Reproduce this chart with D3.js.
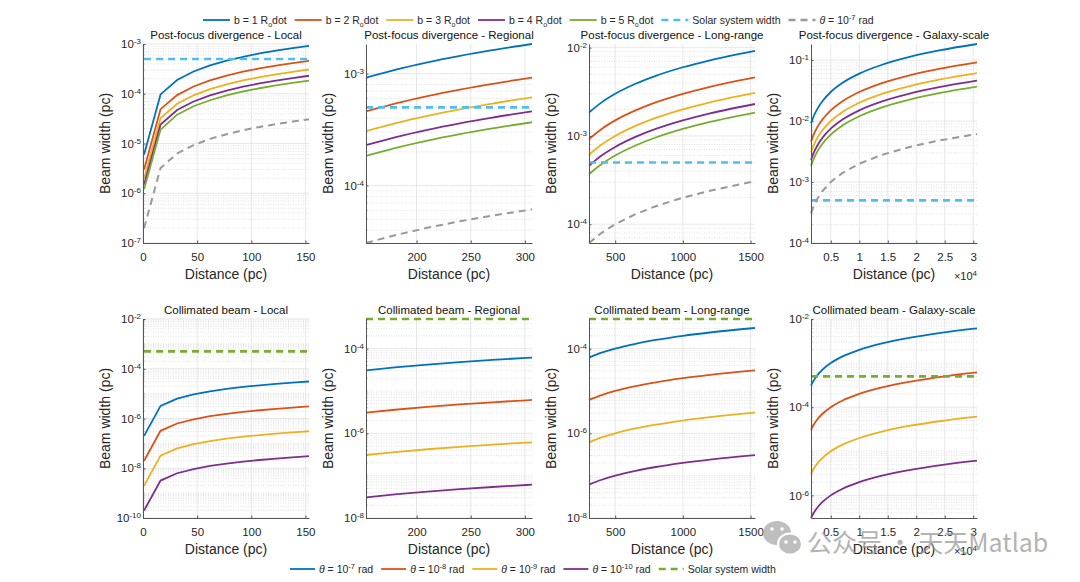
<!DOCTYPE html>
<html lang="en">
<head>
<meta charset="UTF-8">
<script src="https://d3js.org/d3.v7.min.js"></script>
<title>Beam width</title>
<style>
  body { margin: 0; background: #fff; }
  svg text { font-family: "Liberation Sans", Arial, sans-serif; fill: #262626; }
</style>
</head>
<body>
<div id="chart"></div>
<script>
// ---- data (widths in pc) ----
const solarWidth = 5e-4;
const bLabels = [1, 2, 3, 4, 5];
const thetaExps = [-7, -8, -9, -10];

const distLocal = [1, 16.2, 31.5, 46.7, 61.9, 77.2, 92.4, 107.6, 122.8, 138.1, 153.3];
const widthLocalB = [
  [6.0e-6, 9.7e-5, 1.89e-4, 2.80e-4, 3.72e-4, 4.63e-4, 5.54e-4, 6.46e-4, 7.37e-4, 8.28e-4, 9.20e-4],
  [3.0e-6, 4.9e-5, 9.4e-5, 1.40e-4, 1.86e-4, 2.31e-4, 2.77e-4, 3.23e-4, 3.69e-4, 4.14e-4, 4.60e-4],
  [2.0e-6, 3.2e-5, 6.3e-5, 9.3e-5, 1.24e-4, 1.54e-4, 1.85e-4, 2.15e-4, 2.46e-4, 2.76e-4, 3.07e-4],
  [1.5e-6, 2.4e-5, 4.7e-5, 7.0e-5, 9.3e-5, 1.16e-4, 1.39e-4, 1.61e-4, 1.84e-4, 2.07e-4, 2.30e-4],
  [1.2e-6, 1.9e-5, 3.8e-5, 5.6e-5, 7.4e-5, 9.3e-5, 1.11e-4, 1.29e-4, 1.47e-4, 1.66e-4, 1.84e-4]
];
const widthLocalTheta = [
  [2.0e-7, 3.2e-6, 6.3e-6, 9.3e-6, 1.24e-5, 1.54e-5, 1.85e-5, 2.15e-5, 2.46e-5, 2.76e-5, 3.07e-5],
  [2.0e-8, 3.2e-7, 6.3e-7, 9.3e-7, 1.24e-6, 1.54e-6, 1.85e-6, 2.15e-6, 2.46e-6, 2.76e-6, 3.07e-6],
  [2.0e-9, 3.2e-8, 6.3e-8, 9.3e-8, 1.24e-7, 1.54e-7, 1.85e-7, 2.15e-7, 2.46e-7, 2.76e-7, 3.07e-7],
  [2.0e-10, 3.2e-9, 6.3e-9, 9.3e-9, 1.24e-8, 1.54e-8, 1.85e-8, 2.15e-8, 2.46e-8, 2.76e-8, 3.07e-8]
];

const distRegional = [153.3, 180, 210, 240, 270, 306.6];
const widthRegionalB = [
  [9.2e-4, 1.08e-3, 1.26e-3, 1.44e-3, 1.62e-3, 1.84e-3],
  [4.6e-4, 5.4e-4, 6.3e-4, 7.2e-4, 8.1e-4, 9.2e-4],
  [3.07e-4, 3.6e-4, 4.2e-4, 4.8e-4, 5.4e-4, 6.13e-4],
  [2.3e-4, 2.7e-4, 3.15e-4, 3.6e-4, 4.05e-4, 4.6e-4],
  [1.84e-4, 2.16e-4, 2.52e-4, 2.88e-4, 3.24e-4, 3.68e-4]
];
const widthRegionalTheta = [
  [3.07e-5, 3.6e-5, 4.2e-5, 4.8e-5, 5.4e-5, 6.13e-5],
  [3.07e-6, 3.6e-6, 4.2e-6, 4.8e-6, 5.4e-6, 6.13e-6],
  [3.07e-7, 3.6e-7, 4.2e-7, 4.8e-7, 5.4e-7, 6.13e-7],
  [3.07e-8, 3.6e-8, 4.2e-8, 4.8e-8, 5.4e-8, 6.13e-8]
];

const distLong = [306.6, 400, 500, 650, 800, 1000, 1200, 1533];
const widthLongB = [
  [1.84e-3, 2.4e-3, 3.0e-3, 3.9e-3, 4.8e-3, 6.0e-3, 7.2e-3, 9.2e-3],
  [9.2e-4, 1.2e-3, 1.5e-3, 1.95e-3, 2.4e-3, 3.0e-3, 3.6e-3, 4.6e-3],
  [6.13e-4, 8.0e-4, 1.0e-3, 1.3e-3, 1.6e-3, 2.0e-3, 2.4e-3, 3.07e-3],
  [4.6e-4, 6.0e-4, 7.5e-4, 9.75e-4, 1.2e-3, 1.5e-3, 1.8e-3, 2.3e-3],
  [3.68e-4, 4.8e-4, 6.0e-4, 7.8e-4, 9.6e-4, 1.2e-3, 1.44e-3, 1.84e-3]
];
const widthLongTheta = [
  [6.13e-5, 8.0e-5, 1.0e-4, 1.3e-4, 1.6e-4, 2.0e-4, 2.4e-4, 3.07e-4],
  [6.13e-6, 8.0e-6, 1.0e-5, 1.3e-5, 1.6e-5, 2.0e-5, 2.4e-5, 3.07e-5],
  [6.13e-7, 8.0e-7, 1.0e-6, 1.3e-6, 1.6e-6, 2.0e-6, 2.4e-6, 3.07e-6],
  [6.13e-8, 8.0e-8, 1.0e-7, 1.3e-7, 1.6e-7, 2.0e-7, 2.4e-7, 3.07e-7]
];

const distGalaxy = [1533, 2000, 2700, 3600, 5000, 7000, 10000, 14000, 19000, 24000, 30660];
const widthGalaxyB = [
  [9.2e-3, 1.2e-2, 1.62e-2, 2.16e-2, 3.0e-2, 4.2e-2, 6.0e-2, 8.4e-2, 0.114, 0.144, 0.184],
  [4.6e-3, 6.0e-3, 8.1e-3, 1.08e-2, 1.5e-2, 2.1e-2, 3.0e-2, 4.2e-2, 5.7e-2, 7.2e-2, 9.2e-2],
  [3.07e-3, 4.0e-3, 5.4e-3, 7.2e-3, 1.0e-2, 1.4e-2, 2.0e-2, 2.8e-2, 3.8e-2, 4.8e-2, 6.13e-2],
  [2.3e-3, 3.0e-3, 4.05e-3, 5.4e-3, 7.5e-3, 1.05e-2, 1.5e-2, 2.1e-2, 2.85e-2, 3.6e-2, 4.6e-2],
  [1.84e-3, 2.4e-3, 3.24e-3, 4.32e-3, 6.0e-3, 8.4e-3, 1.2e-2, 1.68e-2, 2.28e-2, 2.88e-2, 3.68e-2]
];
const widthGalaxyTheta = [
  [3.07e-4, 4.0e-4, 5.4e-4, 7.2e-4, 1.0e-3, 1.4e-3, 2.0e-3, 2.8e-3, 3.8e-3, 4.8e-3, 6.13e-3],
  [3.07e-5, 4.0e-5, 5.4e-5, 7.2e-5, 1.0e-4, 1.4e-4, 2.0e-4, 2.8e-4, 3.8e-4, 4.8e-4, 6.13e-4],
  [3.07e-6, 4.0e-6, 5.4e-6, 7.2e-6, 1.0e-5, 1.4e-5, 2.0e-5, 2.8e-5, 3.8e-5, 4.8e-5, 6.13e-5],
  [3.07e-7, 4.0e-7, 5.4e-7, 7.2e-7, 1.0e-6, 1.4e-6, 2.0e-6, 2.8e-6, 3.8e-6, 4.8e-6, 6.13e-6]
];

const lineColors = ["#0072BD", "#D95319", "#EDB120", "#7E2F8E", "#77AC30"];
const solarBlue = "#4DBEEE", grayDash = "#999999", solarGreen = "#77AC30";

// ---- layout ----
const W = 166, H = 199;
const colLeft = [143, 366, 589, 811];
const rowTop = [44, 319];

const svg = d3.select("#chart").append("svg")
  .attr("width", 1080).attr("height", 582);

const ranges = [
  { name: "Local", dist: distLocal, b: widthLocalB, th: widthLocalTheta, xDom: [0, 153.3], xTicks: [0, 50, 100, 150], curve: d3.curveLinear,
    yPost: [1e-7, 1e-3], yPostTicks: [1e-7, 1e-6, 1e-5, 1e-4, 1e-3], yColl: [1e-10, 1e-2], yCollTicks: [1e-10, 1e-8, 1e-6, 1e-4, 1e-2] },
  { name: "Regional", dist: distRegional, b: widthRegionalB, th: widthRegionalTheta, xDom: [153.3, 306.6], xTicks: [200, 250, 300], curve: d3.curveMonotoneX,
    yPost: [3.07e-5, 1.84e-3], yPostTicks: [1e-4, 1e-3], yColl: [1e-8, 5e-4], yCollTicks: [1e-8, 1e-6, 1e-4] },
  { name: "Long-range", dist: distLong, b: widthLongB, th: widthLongTheta, xDom: [306.6, 1533], xTicks: [500, 1000, 1500], curve: d3.curveMonotoneX,
    yPost: [6.13e-5, 1.1e-2], yPostTicks: [1e-4, 1e-3, 1e-2], yColl: [1e-8, 5e-4], yCollTicks: [1e-8, 1e-6, 1e-4] },
  { name: "Galaxy-scale", dist: distGalaxy, b: widthGalaxyB, th: widthGalaxyTheta, xDom: [1533, 30660], xTicks: [5000, 10000, 15000, 20000, 25000, 30000], curve: d3.curveMonotoneX, xScaled: true,
    yPost: [1e-4, 0.184], yPostTicks: [1e-4, 1e-3, 1e-2, 1e-1], yColl: [3.07e-7, 1e-2], yCollTicks: [1e-6, 1e-4, 1e-2] }
];

function supText(sel, base, exp, size) {
  sel.text(base);
  sel.append("tspan").attr("dy", "-0.5em").attr("font-size", size).text(exp);
}

function drawPanel(left, top, r, title, yDom, yTicks, series) {
  const g = svg.append("g").attr("transform", `translate(${left},${top})`);
  const x = d3.scaleLinear().domain(r.xDom).range([0, W]);
  const y = d3.scaleLog().domain(yDom).range([H, 0]);

  // minor grid on log axis
  const minor = [];
  const e0 = Math.floor(Math.log10(yDom[0])), e1 = Math.ceil(Math.log10(yDom[1]));
  for (let e = e0; e <= e1; e++) {
    for (let k = 1; k <= 9; k++) {
      const v = k * Math.pow(10, e);
      if (v >= yDom[0] * 0.999 && v <= yDom[1] * 1.001 && !yTicks.some(t => Math.abs(t - v) / v < 1e-6)) minor.push(v);
    }
  }
  g.append("g").selectAll("line").data(minor).join("line")
    .attr("x1", 0).attr("x2", W).attr("y1", d => y(d)).attr("y2", d => y(d))
    .attr("stroke", "#cfcfcf").attr("stroke-width", 0.6).attr("stroke-dasharray", "1,1.5");
  g.append("g").selectAll("line").data(yTicks).join("line")
    .attr("x1", 0).attr("x2", W).attr("y1", d => y(d)).attr("y2", d => y(d))
    .attr("stroke", "#e1e1e1").attr("stroke-width", 0.8);
  g.append("g").selectAll("line").data(r.xTicks).join("line")
    .attr("x1", d => x(d)).attr("x2", d => x(d)).attr("y1", 0).attr("y2", H)
    .attr("stroke", "#e1e1e1").attr("stroke-width", 0.8);

  // series
  const line = d3.line().x(d => x(d[0])).y(d => y(d[1]));
  series.forEach(s => {
    line.curve(s.dashed ? d3.curveLinear : r.curve);
    g.append("path")
      .datum(s.xs.map((d, i) => [d, s.ys[i]]))
      .attr("fill", "none")
      .attr("stroke", s.color)
      .attr("stroke-width", s.width)
      .attr("stroke-dasharray", s.dashed ? s.dash : null)
      .attr("d", line);
  });

  // axes
  const xAxis = d3.axisBottom(x).tickValues(r.xTicks).tickSizeInner(-2.5).tickSizeOuter(0).tickPadding(10)
    .tickFormat(d => r.xScaled ? String(d / 10000) : String(d));
  const gx = g.append("g").attr("transform", `translate(0,${H})`).call(xAxis);
  const yAxis = d3.axisLeft(y).tickValues(yTicks).tickSizeInner(-2.5).tickSizeOuter(0).tickPadding(2);
  const gy = g.append("g").call(yAxis);
  [gx, gy].forEach(a => {
    a.select(".domain").attr("stroke", "#555");
    a.selectAll(".tick line").attr("stroke", "#555");
    a.selectAll(".tick text").attr("font-size", 11.5).attr("fill", "#262626")
      .attr("font-family", "Liberation Sans, Arial, sans-serif");
  });
  gy.selectAll(".tick text").each(function (d) {
    supText(d3.select(this), "10", String(Math.round(Math.log10(d))), "8px");
  });
  g.append("g").selectAll("line").data(minor).join("line")
    .attr("x1", 0).attr("x2", 1.5).attr("y1", d => y(d)).attr("y2", d => y(d))
    .attr("stroke", "#555").attr("stroke-width", 0.6);

  // labels
  g.append("text").attr("x", W / 2).attr("y", -5).attr("text-anchor", "middle")
    .attr("font-size", 11.5).style("fill", "#111").text(title);
  g.append("text").attr("x", W / 2).attr("y", H + 36).attr("text-anchor", "middle")
    .attr("font-size", 14).text("Distance (pc)");
  g.append("text").attr("transform", `translate(-33,${H / 2}) rotate(-90)`).attr("text-anchor", "middle")
    .attr("font-size", 14).text("Beam width (pc)");
  if (r.xScaled) {
    const t = g.append("text").attr("x", W).attr("y", H + 37).attr("text-anchor", "end").attr("font-size", 11);
    supText(t, "\u00d710", "4", "8px");
  }
}

ranges.forEach((r, i) => {
  const ends = [r.dist[0], r.dist[r.dist.length - 1]];
  const post = r.b.map((ys, k) => ({ xs: r.dist, ys, color: lineColors[k], width: 1.8 }));
  post.push({ xs: ends, ys: [solarWidth, solarWidth], color: solarBlue, width: 2.6, dashed: true, dash: "7,5" });
  post.push({ xs: r.dist, ys: r.th[0], color: grayDash, width: 2, dashed: true, dash: "7,5" });
  drawPanel(colLeft[i], rowTop[0], r, "Post-focus divergence - " + r.name, r.yPost, r.yPostTicks, post);

  const coll = r.th.map((ys, k) => ({ xs: r.dist, ys, color: lineColors[k], width: 1.8 }));
  coll.push({ xs: ends, ys: [solarWidth, solarWidth], color: solarGreen, width: 2.6, dashed: true, dash: "7,5" });
  drawPanel(colLeft[i], rowTop[1], r, "Collimated beam - " + r.name, r.yColl, r.yCollTicks, coll);
});

// ---- legends ----
function drawLegend(x0, yc, items, lineLen, gapAfter, fontSize) {
  const g = svg.append("g");
  let cx = x0;
  items.forEach(it => {
    g.append("line").attr("x1", cx).attr("x2", cx + lineLen).attr("y1", yc).attr("y2", yc)
      .attr("stroke", it.color).attr("stroke-width", it.dashed ? 2.6 : 1.8)
      .attr("stroke-dasharray", it.dashed ? "7,5" : null);
    cx += lineLen + 4;
    const t = g.append("text").attr("x", cx).attr("y", yc + fontSize * 0.35).attr("font-size", fontSize);
    it.render(t);
    cx += t.node().getComputedTextLength() + gapAfter;
  });
}
function thetaLabel(exp) {
  return t => {
    t.append("tspan").style("font-style", "italic").text("\u03b8");
    t.append("tspan").text(" = 10");
    t.append("tspan").attr("dy", -4).attr("font-size", "7.5px").text(String(exp));
    t.append("tspan").attr("dy", 4).text(" rad");
  };
}
const topItems = bLabels.map((b, k) => ({
  color: lineColors[k],
  render: t => {
    t.append("tspan").text(`b = ${b} R`);
    t.append("tspan").attr("dy", 3).attr("font-size", "7px").text("o");
    t.append("tspan").attr("dy", -3).text("dot");
  }
}));
topItems.push({ color: solarBlue, dashed: true, render: t => t.text("Solar system width") });
topItems.push({ color: grayDash, dashed: true, render: thetaLabel(-7) });
drawLegend(203, 20, topItems, 27, 8, 10.5);

const bottomItems = thetaExps.map((e, k) => ({ color: lineColors[k], render: thetaLabel(e) }));
bottomItems.push({ color: solarGreen, dashed: true, render: t => t.text("Solar system width") });
drawLegend(290, 569, bottomItems, 25, 8, 10.5);

// ---- watermark ----
const wm = svg.append("g").attr("opacity", 0.75);
wm.append("ellipse").attr("cx", 777).attr("cy", 533).attr("rx", 14).attr("ry", 12).attr("fill", "#a9a9a9");
wm.append("ellipse").attr("cx", 790).attr("cy", 544).attr("rx", 12).attr("ry", 10.5)
  .attr("fill", "#a9a9a9").attr("stroke", "#fff").attr("stroke-width", 2);
[[772, 529], [782, 529], [786, 542], [795, 542]].forEach(p =>
  wm.append("circle").attr("cx", p[0]).attr("cy", p[1]).attr("r", 1.8).attr("fill", "#fff"));
wm.append("text").attr("x", 807).attr("y", 552).attr("font-size", 25)
  .style("font-family", "'Noto Sans CJK SC', 'Noto Sans', sans-serif").style("fill", "#9a9a9a")
  .text("公众号 · 天天Matlab");
</script>
</body>
</html>
